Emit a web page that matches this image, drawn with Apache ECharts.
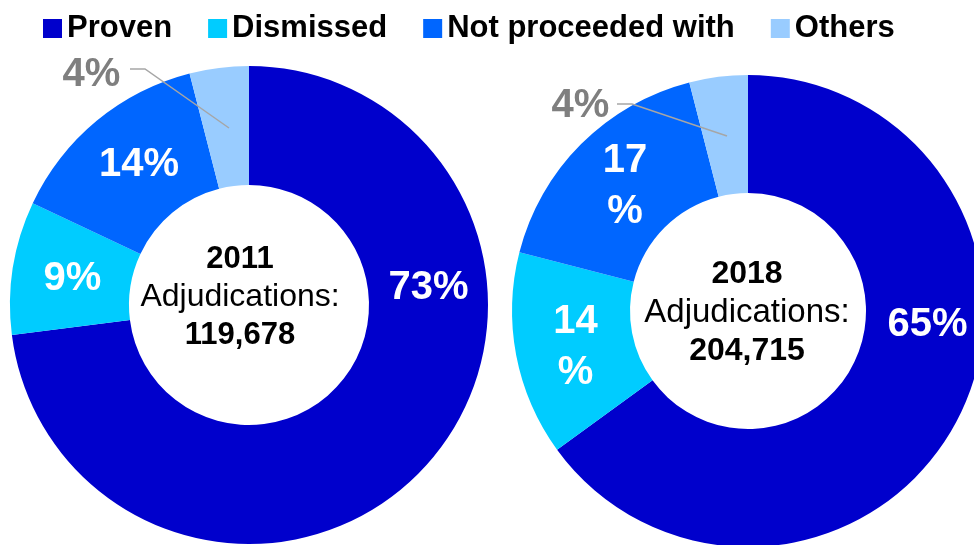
<!DOCTYPE html>
<html>
<head>
<meta charset="utf-8">
<script src="https://cdn.jsdelivr.net/npm/echarts@6/dist/echarts.min.js"></script>
<style>
  html, body { margin: 0; padding: 0; background: #ffffff; }
  #chart { width: 974px; height: 545px; }
</style>
</head>
<body>
<div id="chart"></div>
<script>
// Outcome of adjudications, share by category (%)
const categories = ['Proven', 'Dismissed', 'Not proceeded with', 'Others'];
const years = ['2011', '2018'];
const totals = ['119,678', '204,715'];
const share2011 = [73, 9, 14, 4];
const share2018 = [65, 14, 17, 4];

const palette = ['#0000CC', '#00CCFF', '#0066FF', '#99CCFF'];
const FONT = '"Liberation Sans", Arial, sans-serif';

// Ring geometry for each year
const rings = [
  { center: [249, 305], radius: [120, 239] },
  { center: [748, 311], radius: [118, 236] }
];

// Where each slice label sits
const labelSpots = [
  [
    { x: 428.5, y: 288 },
    { x: 72.5, y: 278.5 },
    { x: 139, y: 164.5 },
    { x: 91.5, y: 74.5 }
  ],
  [
    { x: 927.5, y: 324.5 },
    { x: 575.5, y: 347 },
    { x: 625, y: 186.5 },
    { x: 580.5, y: 105.5 }
  ]
];
// Leader lines from the small "Others" labels into their slices
const leaders = [
  [[130, 69], [145, 69], [229, 128]],
  [[617, 104], [632, 104], [727, 136]]
];
// Slices whose label is split over two lines
const wrapped = [[], [1, 2]];

// Centre captions
const captionSpots = [
  { x: 240, ys: [259, 297, 335.5], size: 31 },
  { x: 747, ys: [274, 313, 351.5], size: 32 }
];

function buildSeries(values, idx) {
  return {
    type: 'pie',
    name: years[idx],
    center: rings[idx].center,
    radius: rings[idx].radius,
    startAngle: 90,
    clockwise: true,
    avoidLabelOverlap: false,
    silent: true,
    emphasis: { disabled: true },
    itemStyle: { borderWidth: 0 },
    label: {
      show: true,
      position: 'inside',
      color: '#ffffff',
      fontFamily: FONT,
      fontWeight: 'bold',
      fontSize: 40,
      lineHeight: 51,
      formatter: function (p) {
        return wrapped[idx].indexOf(p.dataIndex) >= 0 ? p.value + '\n%' : p.value + '%';
      }
    },
    labelLine: { show: false },
    labelLayout: function (p) {
      const s = labelSpots[p.seriesIndex][p.dataIndex];
      return { x: s.x, y: s.y, align: 'center', verticalAlign: 'middle' };
    },
    data: categories.map(function (name, i) {
      const item = { name: name, value: values[i], itemStyle: { color: palette[i] } };
      if (i === 3) {
        item.label = { color: '#7F7F7F' };
      }
      return item;
    })
  };
}

const graphics = [];
leaders.forEach(function (pts) {
  graphics.push({
    type: 'polyline',
    silent: true,
    z: 100,
    shape: { points: pts },
    style: { stroke: '#A6A6A6', lineWidth: 1.5, fill: null }
  });
});
captionSpots.forEach(function (c, i) {
  const lines = [years[i], 'Adjudications:', totals[i]];
  lines.forEach(function (t, k) {
    graphics.push({
      type: 'text',
      x: c.x,
      y: c.ys[k],
      silent: true,
      style: {
        text: t,
        fill: '#000000',
        font: (k === 1 ? 'normal ' : 'bold ') + (k === 1 ? c.size + 1 : c.size) + 'px ' + FONT,
        textAlign: 'center',
        textVerticalAlign: 'middle'
      }
    });
  });
});

const chart = echarts.init(document.getElementById('chart'), null, { renderer: 'canvas' });
chart.setOption({
  animation: false,
  backgroundColor: '#ffffff',
  legend: {
    data: categories,
    left: 38,
    top: 8,
    itemWidth: 19,
    itemHeight: 19,
    itemGap: 36,
    icon: 'rect',
    selectedMode: false,
    textStyle: { fontFamily: FONT, fontWeight: 'bold', fontSize: 31, color: '#000000', padding: [0, 0, 0, 0] }
  },
  series: [buildSeries(share2011, 0), buildSeries(share2018, 1)],
  graphic: graphics
});
</script>
</body>
</html>
